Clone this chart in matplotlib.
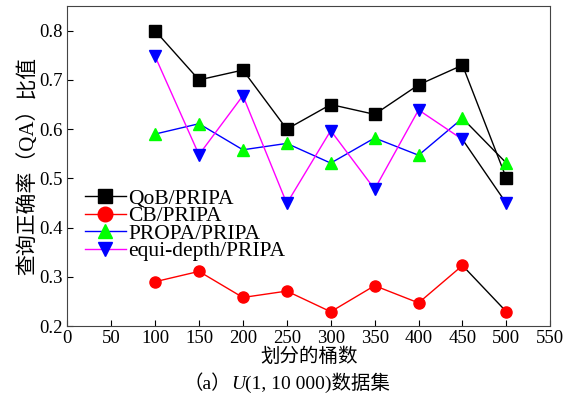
import matplotlib.pyplot as plt
import numpy as np

plt.rcParams['font.family'] = ['Liberation Serif', 'Noto Sans CJK SC']
plt.rcParams['axes.unicode_minus'] = False

buckets = [100, 150, 200, 250, 300, 350, 400, 450, 500]
qob = [0.80, 0.70, 0.72, 0.60, 0.65, 0.63, 0.69, 0.73, 0.50]
cb = [0.29, 0.311, 0.258, 0.271, 0.229, 0.282, 0.247, 0.323, 0.229]
propa = [0.590, 0.611, 0.558, 0.571, 0.531, 0.582, 0.547, 0.622, 0.531]
equi = [0.748, 0.548, 0.668, 0.449, 0.597, 0.478, 0.639, 0.579, 0.449]

series = [
    ('QoB/PRIPA', qob, 'black', 's', 'black'),
    ('CB/PRIPA', cb, 'red', 'o', 'red'),
    ('PROPA/PRIPA', propa, 'blue', '^', '#00ff00'),
    ('equi-depth/PRIPA', equi, 'magenta', 'v', 'blue'),
]

fig = plt.figure(figsize=(5.65, 4.05), dpi=100)
ax = fig.add_axes([0.119, 0.195, 0.855, 0.79])

for label, vals, lc, mk, mc in series:
    # the last segment is drawn in black in the original
    ax.plot(buckets[-2:], vals[-2:], color='black', lw=1.0, zorder=2)
    ax.plot(buckets[:-1], vals[:-1], color=lc, lw=1.0, zorder=2)
    ax.plot(buckets, vals, ls='none', marker=mk, ms=8, color=mc,
            markeredgecolor=mc, zorder=3)
    ax.plot([], [], color=lc, lw=1.0, marker=mk, ms=10.5, markerfacecolor=mc,
            markeredgecolor=mc, label=label)

ax.set_xlim(0, 550)
ax.set_ylim(0.2, 0.85)
ax.set_xticks(np.arange(0, 551, 50))
ax.set_yticks([0.2, 0.3, 0.4, 0.5, 0.6, 0.7, 0.8])
ax.tick_params(direction='in', length=4, labelsize=13.5, top=False, right=False, pad=3)
for s in ax.spines.values():
    s.set_color('#444444')

ax.set_xlabel('划分的桶数', fontsize=14, labelpad=0)
ax.set_ylabel('查询正确率（QA）比值', fontsize=15, labelpad=1)

ax.legend(loc='upper left', bbox_to_anchor=(0.01, 0.47), frameon=False,
          fontsize=15.5, handlelength=1.9, handletextpad=0.1,
          labelspacing=-0.12, borderpad=0.1)

t1 = fig.text(0.325, 0.04, '（a）', ha='left', va='baseline', fontsize=14)
t2 = ax.annotate('U', xy=(1, 0), xycoords=t1, va='bottom', ha='left',
                 fontsize=14, style='italic', annotation_clip=False)
ax.annotate('(1, 10 000)数据集', xy=(1, 0), xycoords=t2, va='bottom', ha='left',
            fontsize=14, annotation_clip=False)

plt.savefig('out.png', dpi=100)
